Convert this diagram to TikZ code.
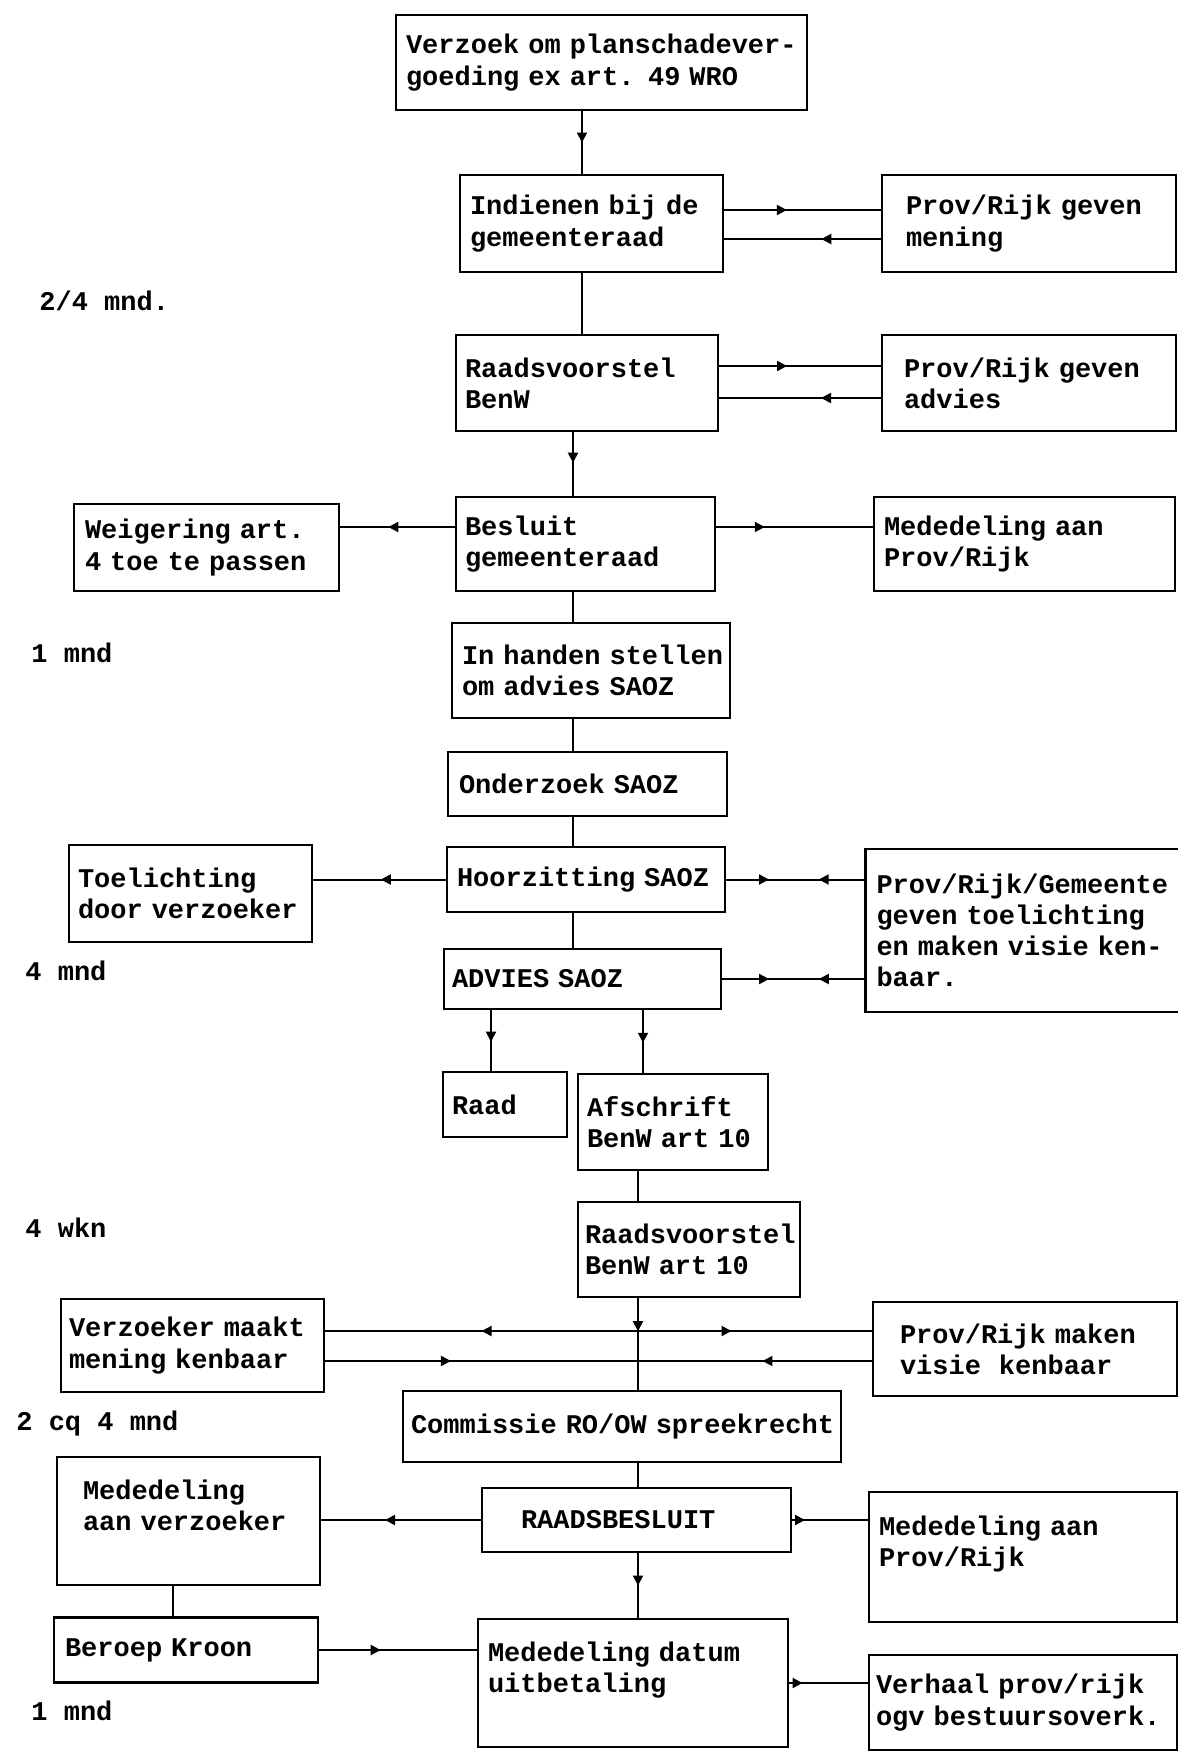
\documentclass[tikz,border=0pt]{standalone}
\usepackage{fontspec}
\newfontfamily\planfont{Liberation Mono}
\usetikzlibrary{arrows.meta,decorations.markings}

\tikzset{
  box/.style={draw, line width=1.2pt, align=left, inner ysep=0pt,
    font=\planfont\bfseries\fontsize{13.5}{15.6}\selectfont,
    execute at begin node={\hyphenpenalty=10000\hbadness=10000\hfuzz=20pt}},
  period/.style={anchor=west, inner sep=0pt,
    font=\planfont\bfseries\fontsize{13.5}{15.6}\selectfont},
  link/.style={line width=1pt},
  ahead/.style={postaction={decorate}, decoration={markings,
    mark=at position #1 with {\arrow{>}}}},
  meet/.style 2 args={postaction={decorate}, decoration={markings,
    mark=at position #1 with {\arrow{>}},
    mark=at position #2 with {\arrowreversed{>}}}}
}

\begin{document}
\begin{tikzpicture}[x=0.5pt, y=-0.5pt, >={Triangle[length=5pt,width=5pt]}]
\useasboundingbox (0,0) rectangle (1178,1751);

% Boxes, main column
\node[box, text width=195.5pt, inner xsep=5pt, minimum height=47.5pt] (verzoek) at (601.5,62.5) {Verzoek~om~planschadever-\\goeding ex art. 49 WRO};
\node[box, text width=121.5pt, inner xsep=5pt, minimum height=48.5pt] (indienen) at (591.5,223.5) {Indienen~bij~de\\gemeenteraad};
\node[box, text width=122pt, inner xsep=4.5pt, minimum height=48pt] (voorstel) at (587,383) {Raadsvoorstel\\BenW};
\node[box, text width=120.5pt, inner xsep=4.5pt, minimum height=47pt] (besluit) at (585.5,544) {Besluit\\gemeenteraad};
\node[box, text width=129pt, inner xsep=5pt, minimum height=47.5pt] (handen) at (591,670.5) {In~handen~stellen\\om advies SAOZ};
\node[box, text width=128.5pt, inner xsep=5.5pt, minimum height=32pt] (onderzoek) at (587.5,784) {Onderzoek SAOZ};
\node[box, text width=129pt, inner xsep=5pt, minimum height=32.5pt] (hoorzitting) at (586,879.5) {Hoorzitting~SAOZ};
\node[box, text width=130.5pt, inner xsep=4pt, minimum height=30pt] (adviessaoz) at (582.5,979) {ADVIES SAOZ};
\node[box, text width=53pt, inner xsep=4.5pt, minimum height=32.5pt] (raad) at (505,1104.5) {Raad};
\node[box, text width=86pt, inner xsep=4.5pt, minimum height=48pt] (afschrift) at (673,1122) {Afschrift\\BenW~art~10};
\node[box, text width=104pt, inner xsep=3.5pt, minimum height=47.5pt] (voorstel10) at (689,1249.5) {Raadsvoorstel\\BenW art 10};
\node[box, text width=211pt, inner xsep=4pt, minimum height=35.5pt] (commissie) at (622,1426.5) {Commissie~RO/OW~spreekrecht};
\node[box, text width=115.5pt, inner xsep=19.5pt, minimum height=32pt] (raadsbesluit) at (636.5,1520) {RAADSBESLUIT};
\node[box, text width=145pt, inner xsep=5pt, minimum height=64pt] (datum) at (633,1683) {Mededeling datum\\uitbetaling\\\mbox{}};

% Boxes, left side
\node[box, text width=121.5pt, inner xsep=5.5pt, minimum height=43.5pt] (weigering) at (206.5,547.5) {Weigering art.\\4~toe~te~passen};
\node[box, text width=112.5pt, inner xsep=4.5pt, minimum height=48.5pt] (toelichting) at (190.5,893.5) {Toelichting\\door~verzoeker};
\node[box, text width=123.5pt, inner xsep=4pt, minimum height=46.5pt] (verzoeker) at (192.5,1345.5) {Verzoeker~maakt\\mening kenbaar};
\node[box, text width=105.5pt, inner xsep=13pt, minimum height=64pt] (aanverzoeker) at (188.5,1521) {Mededeling\\aan~verzoeker\\\mbox{}};
\node[box, text width=121pt, inner xsep=5.5pt, minimum height=32.5pt] (beroep) at (186,1650) {Beroep Kroon};

% Boxes, right side
\node[box, text width=123pt, inner xsep=12pt, minimum height=48.5pt] (mening) at (1029,223.5) {Prov/Rijk~geven\\mening};
\node[box, text width=125pt, inner xsep=11pt, minimum height=48pt] (advies) at (1029,383) {Prov/Rijk~geven\\advies};
\node[box, text width=140.5pt, inner xsep=5pt, minimum height=47pt] (meded1) at (1024.5,544) {Mededeling aan\\Prov/Rijk};
\node[box, text width=149pt, inner xsep=5.5pt, minimum height=81.5pt] (gemeente) at (1025.5,930.5) {Prov/Rijk/Gemeente\\geven toelichting\\en~maken~visie~ken-\\baar.};
\node[box, text width=125pt, inner xsep=13.5pt, minimum height=47pt] (visie) at (1025,1349) {Prov/Rijk~maken\\visie\ \ kenbaar};
\node[box, text width=144pt, inner xsep=5pt, minimum height=65pt] (meded2) at (1023,1557) {Mededeling aan\\Prov/Rijk\\\mbox{}};
\node[box, text width=147pt, inner xsep=3.5pt, minimum height=47.5pt] (verhaal) at (1023,1702.5) {Verhaal prov/rijk\\ogv~bestuursoverk.};

% Periods
\node[period] (p1) at (39,301) {2/4 mnd.};
\node[period] (p2) at (31,653) {1 mnd};
\node[period] (p3) at (25,971) {4 mnd};
\node[period] (p4) at (25,1228) {4 wkn};
\node[period] (p5) at (16,1424) {2 cq 4 mnd};
\node[period] (p6) at (31,1711) {1 mnd};

% Spines
\coordinate (upper) at (582,0);
\coordinate (middle) at (573,0);
\coordinate (lower) at (638,0);
\coordinate (hub) at (638,1331);
\coordinate (hubline) at (638,1361);

% Vertical connectors
\draw[link, ahead=0.5] (verzoek.south -| upper) -- (indienen.north -| upper);
\draw[link] (indienen.south -| upper) -- (voorstel.north -| upper);
\draw[link, ahead=0.48] (voorstel.south -| middle) -- (besluit.north -| middle);
\draw[link] (besluit.south -| middle) -- (handen.north -| middle);
\draw[link] (handen.south -| middle) -- (onderzoek.north -| middle);
\draw[link] (onderzoek.south -| middle) -- (hoorzitting.north -| middle);
\draw[link] (hoorzitting.south -| middle) -- (adviessaoz.north -| middle);
\draw[link, ahead=0.52] ([xshift=-7pt]raad.north |- adviessaoz.south) -- ([xshift=-7pt]raad.north);
\draw[link, ahead=0.52] ([xshift=-15pt]afschrift.north |- adviessaoz.south) -- ([xshift=-15pt]afschrift.north);
\draw[link] (afschrift.south -| lower) -- (voorstel10.north -| lower);
\draw[link, ahead=0.36] (voorstel10.south -| lower) -- (commissie.north -| lower);
\draw[link] (commissie.south -| lower) -- (raadsbesluit.north -| lower);
\draw[link, ahead=0.5] (raadsbesluit.south -| lower) -- (datum.north -| lower);
\draw[link] ([xshift=-7.75pt]aanverzoeker.south) -- ([xshift=-7.75pt]aanverzoeker.south |- beroep.north);

% Horizontal connectors
\draw[link, ahead=0.40] ([yshift=6.75pt]indienen.east) -- ([yshift=6.75pt]mening.west);
\draw[link, ahead=0.38] ([yshift=-7.75pt]mening.west) -- ([yshift=-7.75pt]indienen.east);
\draw[link, ahead=0.42] ([yshift=8.5pt]voorstel.east) -- ([yshift=8.5pt]advies.west);
\draw[link, ahead=0.37] ([yshift=-7.5pt]advies.west) -- ([yshift=-7.5pt]voorstel.east);
\draw[link, ahead=0.58] ([yshift=8.5pt]besluit.west) -- ([yshift=8.5pt]besluit.west -| weigering.east);
\draw[link, ahead=0.31] ([yshift=8.5pt]besluit.east) -- ([yshift=8.5pt]meded1.west);
\draw[link, ahead=0.49] (hoorzitting.west) -- (hoorzitting.west -| toelichting.east);
\draw[link, meet={0.31}{0.67}] (hoorzitting.east) -- (hoorzitting.east -| gemeente.west);
\draw[link, meet={0.33}{0.68}] (adviessaoz.east) -- (adviessaoz.east -| gemeente.west);
\draw[link, ahead=0.5] (hub) -- (verzoeker.east |- hub);
\draw[link, ahead=0.40] (hub) -- (visie.west |- hub);
\draw[link, meet={0.23}{0.80}] (verzoeker.east |- hubline) -- (visie.west |- hubline);
\draw[link, ahead=0.6] (raadsbesluit.west) -- (raadsbesluit.west -| aanverzoeker.east);
\draw[link, ahead=0.17] (raadsbesluit.east) -- (raadsbesluit.east -| meded2.west);
\draw[link, ahead=0.39] (beroep.east) -- (beroep.east -| datum.west);
\draw[link, ahead=0.17] (datum.east) -- (datum.east -| verhaal.west);
\end{tikzpicture}
\end{document}
